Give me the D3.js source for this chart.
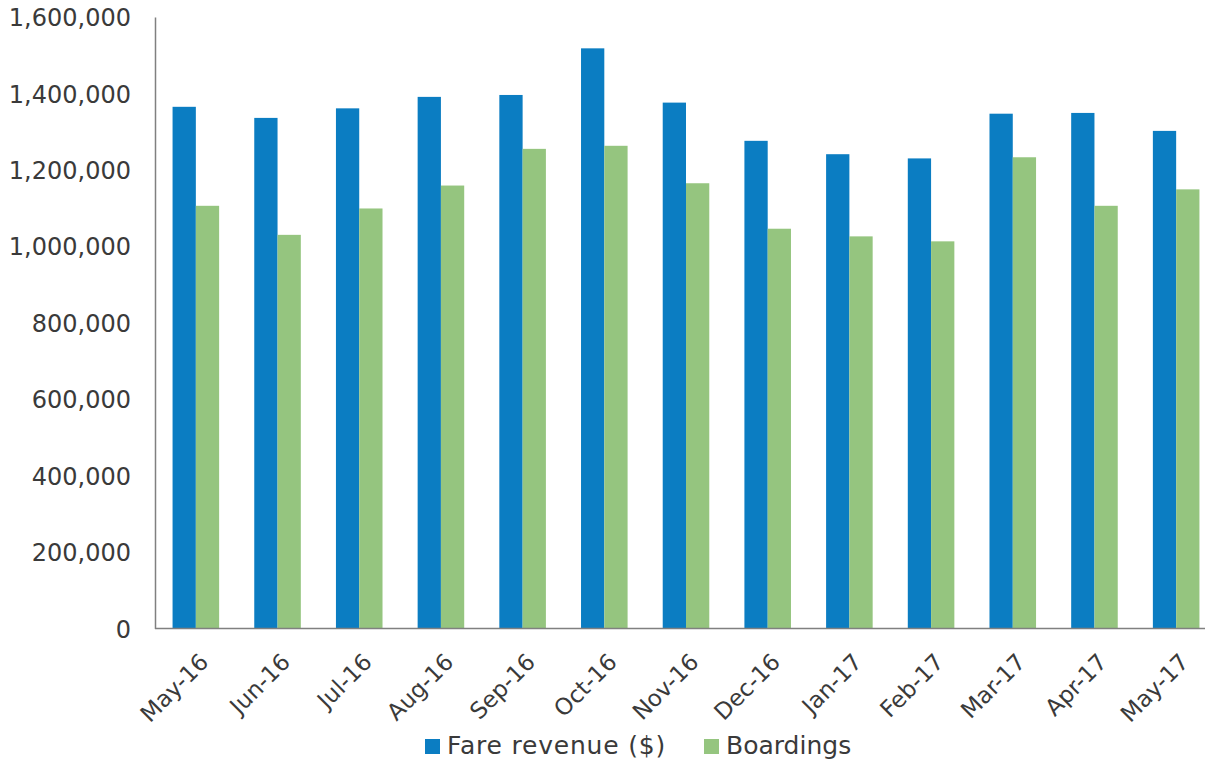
<!DOCTYPE html>
<html>
<head>
<meta charset="utf-8">
<script src="https://cdn.jsdelivr.net/npm/d3@7"></script>
<style>
  html, body { margin: 0; padding: 0; background: #ffffff; }
  svg { display: block; }
  text { font-family: "DejaVu Sans", sans-serif; fill: #3a3a3a; }
</style>
</head>
<body>
<svg id="chart" width="1212" height="761"></svg>
<script>
const months = ["May-16","Jun-16","Jul-16","Aug-16","Sep-16","Oct-16","Nov-16","Dec-16","Jan-17","Feb-17","Mar-17","Apr-17","May-17"];
const fareRevenue = [1365000,1336000,1361000,1391000,1396000,1518000,1376000,1276000,1241000,1230000,1347000,1349000,1302000];
const boardings   = [1106000,1030000,1099000,1159000,1255000,1263000,1165000,1046000,1026000,1013000,1233000,1106000,1149000];
const yTicks = [0,200000,400000,600000,800000,1000000,1200000,1400000,1600000];
const seriesNames = ["Fare revenue ($)","Boardings"];
const seriesColors = ["#0b7dc2","#95c57f"];

const svg = d3.select("#chart");
const x0 = 155, x1 = 1217, yBase = 628.5, yTop = 17;

const x = d3.scaleBand().domain(months).range([x0, x1]).paddingInner(0.43).paddingOuter(0.215);
const xs = d3.scaleBand().domain(seriesNames).range([0, x.bandwidth()]);
const y = d3.scaleLinear().domain([0, 1600000]).range([yBase, yTop]);

const rows = months.map((m, i) => ({ m, vals: [fareRevenue[i], boardings[i]] }));

// bars
const g = svg.append("g");
rows.forEach(r => {
  r.vals.forEach((v, j) => {
    g.append("rect")
      .attr("x", x(r.m) + xs(seriesNames[j]))
      .attr("y", y(v))
      .attr("width", xs.bandwidth())
      .attr("height", y(0) - y(v))
      .attr("fill", seriesColors[j]);
  });
});

// y axis
const yAxis = d3.axisLeft(y).tickValues(yTicks).tickSize(0).tickPadding(24)
  .tickFormat(d3.format(","));
const ya = svg.append("g").attr("transform", `translate(${x0},0)`).call(yAxis);
ya.select(".domain").attr("stroke", "#808080").attr("stroke-width", 1.5);
ya.selectAll("text").attr("font-size", 24).attr("font-family", "DejaVu Sans").attr("fill", "#3a3a3a").attr("dy", "0.36em");

// x axis
const xAxis = d3.axisBottom(x).tickSize(0).tickPadding(0);
const xa = svg.append("g").attr("transform", `translate(0,${yBase})`).call(xAxis);
xa.select(".domain").attr("stroke", "#808080").attr("stroke-width", 1.5).attr("d", `M${x0},0H1205`);
xa.selectAll("text")
  .attr("font-size", 23).attr("font-family", "DejaVu Sans").attr("fill", "#3a3a3a")
  .attr("text-anchor", "end").attr("dy", 0).attr("y", 0)
  .attr("transform", "translate(14,35) rotate(-45)");

// legend
const legend = svg.append("g");
const legX = [425, 704];
seriesNames.forEach((n, j) => {
  legend.append("rect").attr("x", legX[j]).attr("y", 739).attr("width", 15).attr("height", 15).attr("fill", seriesColors[j]);
  legend.append("text").attr("x", legX[j] + 22).attr("y", 754).attr("font-size", 25)
    .attr("letter-spacing", j === 0 ? 0.8 : 0).text(n);
});
</script>
</body>
</html>
